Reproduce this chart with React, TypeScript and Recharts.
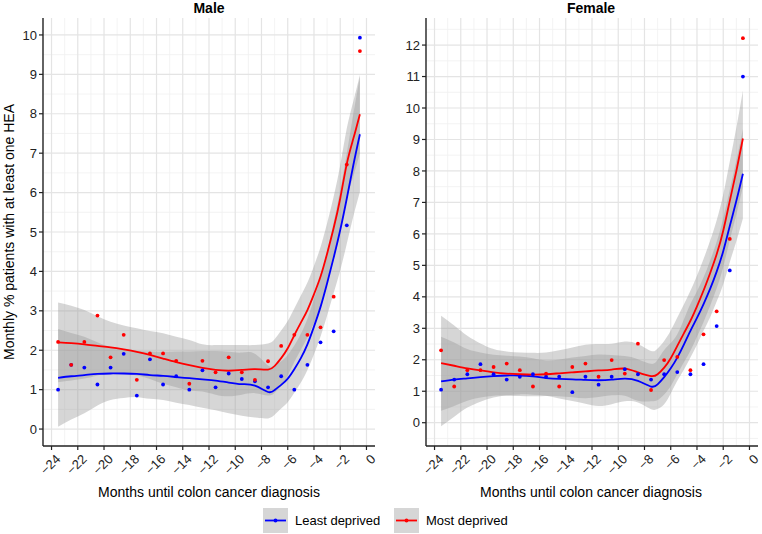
import { ComposedChart, Area, Line, Scatter, XAxis, YAxis, CartesianGrid } from "recharts";

// observed monthly values, one per half month before diagnosis
const months = [
  -23.5, -22.5, -21.5, -20.5, -19.5, -18.5, -17.5, -16.5, -15.5, -14.5, -13.5, -12.5,
  -11.5, -10.5, -9.5, -8.5, -7.5, -6.5, -5.5, -4.5, -3.5, -2.5, -1.5, -0.5,
];

const maleMostPts = [
  2.21, 1.63, 2.21, 2.88, 1.82, 2.39, 1.25, 1.92, 1.92, 1.73, 1.15, 1.73,
  1.44, 1.82, 1.44, 1.25, 1.72, 2.11, 2.39, 2.39, 2.58, 3.36, 6.71, 9.59,
];
const maleLeastPts = [
  1.0, 1.63, 1.56, 1.13, 1.56, 1.91, 0.85, 1.77, 1.13, 1.34, 1.0, 1.49,
  1.06, 1.41, 1.27, 1.21, 1.06, 1.34, 1.0, 1.63, 2.2, 2.48, 5.17, 9.93,
];
const femaleMostPts = [
  2.3, 1.15, 1.67, 1.67, 1.77, 1.88, 1.67, 1.15, 1.56, 1.15, 1.77, 1.88,
  1.46, 1.99, 1.56, 2.51, 1.04, 1.99, 2.09, 1.67, 2.81, 3.54, 5.84, 12.22,
];
const femaleLeastPts = [
  1.05, 1.37, 1.54, 1.86, 1.54, 1.37, 1.46, 1.54, 1.46, 1.46, 0.97, 1.46,
  1.21, 1.46, 1.7, 1.54, 1.37, 1.54, 1.61, 1.54, 1.86, 3.07, 4.84, 11.0,
];

// smoothed curve + confidence band
const fitMonths = [
  -23.5, -22.5, -21.5, -20.5, -19.5, -18.5, -17.5, -16.5, -15.5, -14.5, -13.5, -12.5,
  -11.5, -10.5, -9.5, -8.5, -7.5, -7, -6.5, -6, -5.5, -5, -4.5, -4, -3.5, -3, -2.5,
  -2, -1.5, -1, -0.5,
];

const maleMostFit = [
  2.2, 2.18, 2.15, 2.11, 2.07, 2.02, 1.96, 1.88, 1.79, 1.7, 1.62, 1.55,
  1.5, 1.48, 1.5, 1.52, 1.51, 1.6, 1.8, 2.05, 2.38, 2.7, 3.02, 3.42, 3.87, 4.45, 5.1,
  5.85, 6.73, 7.37, 7.99,
];
const maleMostLo = [
  1.19, 1.23, 1.28, 1.36, 1.42, 1.41, 1.36, 1.27, 1.15, 1.06, 0.98, 0.95,
  0.87, 0.83, 0.87, 0.91, 0.85, 0.92, 1.1, 1.36, 1.7, 2.01, 2.32, 2.7, 3.12, 3.68, 4.3,
  5.0, 5.83, 6.42, 6.99,
];
const maleMostHi = [
  3.21, 3.13, 3.02, 2.86, 2.72, 2.63, 2.56, 2.49, 2.43, 2.34, 2.26, 2.15,
  2.13, 2.13, 2.13, 2.13, 2.17, 2.28, 2.5, 2.74, 3.06, 3.39, 3.72, 4.14, 4.62, 5.22, 5.9,
  6.7, 7.63, 8.32, 8.99,
];
const maleLeastFit = [
  1.3, 1.34, 1.37, 1.4, 1.41, 1.41, 1.4, 1.37, 1.35, 1.32, 1.29, 1.26,
  1.23, 1.18, 1.14, 1.1, 0.94, 0.99, 1.12, 1.28, 1.52, 1.8, 2.15, 2.6, 3.1, 3.7, 4.35,
  5.05, 5.85, 6.7, 7.48,
];
const maleLeastLo = [
  0.06, 0.24, 0.4, 0.6, 0.74, 0.79, 0.81, 0.77, 0.74, 0.67, 0.61, 0.54,
  0.48, 0.4, 0.34, 0.29, 0.27, 0.36, 0.52, 0.68, 0.92, 1.18, 1.5, 1.9, 2.35, 2.88, 3.45,
  4.03, 4.7, 5.4, 6.02,
];
const maleLeastHi = [
  2.54, 2.44, 2.34, 2.2, 2.08, 2.03, 1.99, 1.97, 1.96, 1.97, 1.97, 1.98,
  1.98, 1.96, 1.94, 1.91, 1.61, 1.62, 1.72, 1.88, 2.12, 2.42, 2.8, 3.3, 3.85, 4.52, 5.25,
  6.07, 7.0, 8.0, 8.94,
];

const femaleMostFit = [
  1.89, 1.81, 1.73, 1.66, 1.6, 1.56, 1.54, 1.53, 1.54, 1.57, 1.6, 1.63,
  1.66, 1.69, 1.72, 1.6, 1.48, 1.54, 1.75, 2.05, 2.44, 2.84, 3.24, 3.7, 4.2, 4.75, 5.35,
  6.1, 7.05, 8.0, 9.03,
];
const femaleMostLo = [
  0.38, 0.53, 0.7, 0.8, 0.86, 0.86, 0.85, 0.84, 0.85, 0.84, 0.81, 0.78,
  0.82, 0.87, 0.86, 0.7, 0.68, 0.72, 0.9, 1.17, 1.54, 1.92, 2.29, 2.73, 3.2, 3.72, 4.27,
  4.95, 5.8, 6.62, 7.5,
];
const femaleMostHi = [
  3.4, 3.09, 2.76, 2.52, 2.34, 2.26, 2.23, 2.22, 2.23, 2.3, 2.39, 2.48,
  2.5, 2.51, 2.58, 2.5, 2.28, 2.36, 2.6, 2.93, 3.34, 3.76, 4.19, 4.67, 5.2, 5.78, 6.43,
  7.25, 8.3, 9.38, 10.56,
];
const femaleLeastFit = [
  1.31, 1.37, 1.41, 1.45, 1.48, 1.5, 1.5, 1.47, 1.42, 1.39, 1.38, 1.36,
  1.35, 1.37, 1.4, 1.33, 1.15, 1.22, 1.45, 1.73, 2.07, 2.48, 2.92, 3.33, 3.77, 4.25, 4.8,
  5.45, 6.25, 7.05, 7.91,
];
const femaleLeastLo = [
  -0.11, 0.19, 0.48, 0.67, 0.8, 0.87, 0.9, 0.89, 0.86, 0.77, 0.69, 0.6,
  0.53, 0.59, 0.68, 0.64, 0.43, 0.44, 0.59, 0.93, 1.33, 1.68, 2.07, 2.48, 2.92, 3.35, 3.85,
  4.4, 5.1, 5.77, 6.49,
];
const femaleLeastHi = [
  2.73, 2.55, 2.34, 2.23, 2.16, 2.13, 2.1, 2.05, 1.98, 2.01, 2.07, 2.12,
  2.17, 2.15, 2.12, 2.02, 1.87, 2.0, 2.31, 2.53, 2.81, 3.28, 3.77, 4.18, 4.62, 5.15, 5.75,
  6.5, 7.4, 8.33, 9.33,
];

const xTicks = [-24, -22, -20, -18, -16, -14, -12, -10, -8, -6, -4, -2, 0];
const xMinor = [-23, -21, -19, -17, -15, -13, -11, -9, -7, -5, -3, -1];
const maleYTicks = [0, 1, 2, 3, 4, 5, 6, 7, 8, 9, 10];
const maleYMinor = [0.5, 1.5, 2.5, 3.5, 4.5, 5.5, 6.5, 7.5, 8.5, 9.5];
const femaleYTicks = [0, 1, 2, 3, 4, 5, 6, 7, 8, 9, 10, 11, 12];
const femaleYMinor = [-0.5, 0.5, 1.5, 2.5, 3.5, 4.5, 5.5, 6.5, 7.5, 8.5, 9.5, 10.5, 11.5, 12.5];

const MOST = "#ff0000";
const LEAST = "#0000ff";
const FONT = "'Liberation Sans', Arial, Helvetica, sans-serif";
const CURVE = "natural";

function XTick({ x, y, payload }: any) {
  const v = payload.value;
  const label = v < 0 ? `\u2212${Math.abs(v)}` : `${v}`;
  const ax = x + 3;
  const ay = y + 1;
  return (
    <text
      x={ax}
      y={ay}
      transform={`rotate(-45 ${ax} ${ay})`}
      textAnchor="end"
      dominantBaseline="hanging"
      fontSize={13}
      fontFamily={FONT}
      fill="#222"
    >
      {label}
    </text>
  );
}

const dot = (color: string) => (p: any) => <circle cx={p.cx} cy={p.cy} r={1.9} fill={color} />;

interface PanelProps {
  left: number;
  yDomain: [number, number];
  yTicks: number[];
  yMinor: number[];
  mostPts: number[];
  leastPts: number[];
  mostFit: number[];
  mostLo: number[];
  mostHi: number[];
  leastFit: number[];
  leastLo: number[];
  leastHi: number[];
}

function Panel(p: PanelProps) {
  const data = fitMonths.map((m, i) => ({
    m,
    mostFit: p.mostFit[i],
    mostBand: [p.mostLo[i], p.mostHi[i]],
    leastFit: p.leastFit[i],
    leastBand: [p.leastLo[i], p.leastHi[i]],
  }));
  const mostDots = months.map((m, i) => ({ m, v: p.mostPts[i] }));
  const leastDots = months.map((m, i) => ({ m, v: p.leastPts[i] }));

  return (
    <div style={{ position: "absolute", left: p.left, top: 0 }}>
      <ComposedChart
        width={380}
        height={534}
        data={data}
        margin={{ top: 18, right: 5, bottom: 58, left: 0 }}
      >
        <CartesianGrid
          verticalValues={xMinor}
          horizontalValues={p.yMinor}
          stroke="#f0f0f0"
          strokeWidth={0.8}
        />
        <CartesianGrid
          verticalValues={xTicks}
          horizontalValues={p.yTicks}
          stroke="#e4e4e4"
          strokeWidth={1.2}
        />
        <XAxis
          dataKey="m"
          type="number"
          domain={[-24.65, 0.65]}
          ticks={xTicks}
          allowDataOverflow
          height={30}
          tickSize={4}
          axisLine={{ stroke: "#222", strokeWidth: 1.4 }}
          tickLine={{ stroke: "#222", strokeWidth: 1.2 }}
          tick={<XTick />}
          interval={0}
        />
        <YAxis
          type="number"
          domain={p.yDomain}
          ticks={p.yTicks}
          allowDataOverflow
          width={43}
          tickSize={4}
          tickMargin={2}
          axisLine={{ stroke: "#222", strokeWidth: 1.4 }}
          tickLine={{ stroke: "#222", strokeWidth: 1.2 }}
          tick={{ fontSize: 13, fill: "#222", fontFamily: FONT }}
          interval={0}
        />
        <Area
          dataKey="leastBand"
          type={CURVE}
          stroke="none"
          fill="#999999"
          fillOpacity={0.4}
          activeDot={false}
          isAnimationActive={false}
        />
        <Area
          dataKey="mostBand"
          type={CURVE}
          stroke="none"
          fill="#999999"
          fillOpacity={0.4}
          activeDot={false}
          isAnimationActive={false}
        />
        <Line
          dataKey="leastFit"
          type={CURVE}
          stroke={LEAST}
          strokeWidth={1.8}
          dot={false}
          activeDot={false}
          isAnimationActive={false}
        />
        <Line
          dataKey="mostFit"
          type={CURVE}
          stroke={MOST}
          strokeWidth={1.8}
          dot={false}
          activeDot={false}
          isAnimationActive={false}
        />
        <Scatter data={leastDots} dataKey="v" fill={LEAST} shape={dot(LEAST)} isAnimationActive={false} />
        <Scatter data={mostDots} dataKey="v" fill={MOST} shape={dot(MOST)} isAnimationActive={false} />
      </ComposedChart>
    </div>
  );
}

export default function App() {
  return (
    <div
      style={{
        position: "fixed",
        left: 0,
        top: 0,
        width: 762,
        height: 534,
        overflow: "hidden",
        background: "#fff",
        fontFamily: FONT,
      }}
    >
      <Panel
        left={0}
        yDomain={[-0.43, 10.43]}
        yTicks={maleYTicks}
        yMinor={maleYMinor}
        mostPts={maleMostPts}
        leastPts={maleLeastPts}
        mostFit={maleMostFit}
        mostLo={maleMostLo}
        mostHi={maleMostHi}
        leastFit={maleLeastFit}
        leastLo={maleLeastLo}
        leastHi={maleLeastHi}
      />
      <Panel
        left={383}
        yDomain={[-0.74, 12.86]}
        yTicks={femaleYTicks}
        yMinor={femaleYMinor}
        mostPts={femaleMostPts}
        leastPts={femaleLeastPts}
        mostFit={femaleMostFit}
        mostLo={femaleMostLo}
        mostHi={femaleMostHi}
        leastFit={femaleLeastFit}
        leastLo={femaleLeastLo}
        leastHi={femaleLeastHi}
      />
      <svg
        width={762}
        height={534}
        style={{ position: "absolute", left: 0, top: 0, pointerEvents: "none" }}
        fontFamily={FONT}
      >
        <text x={209} y={13} textAnchor="middle" fontSize={14} fontWeight="bold" fill="#000">
          Male
        </text>
        <text x={591} y={13} textAnchor="middle" fontSize={14} fontWeight="bold" fill="#000">
          Female
        </text>
        <text x={209} y={497} textAnchor="middle" fontSize={14} fill="#000">
          Months until colon cancer diagnosis
        </text>
        <text x={591} y={497} textAnchor="middle" fontSize={14} fill="#000">
          Months until colon cancer diagnosis
        </text>
        <text
          x={14}
          y={232}
          transform="rotate(-90 14 232)"
          textAnchor="middle"
          fontSize={14}
          fill="#000"
        >
          Monthly % patients with at least one HEA
        </text>

        <rect x={263} y={508} width={25} height={25} fill="#d6d6d6" />
        <line x1={265} y1={520.5} x2={286} y2={520.5} stroke={LEAST} strokeWidth={1.8} />
        <circle cx={275.5} cy={520.5} r={1.9} fill={LEAST} />
        <text x={295} y={525} fontSize={13} fill="#000">
          Least deprived
        </text>

        <rect x={394} y={508} width={25} height={25} fill="#d6d6d6" />
        <line x1={396} y1={520.5} x2={417} y2={520.5} stroke={MOST} strokeWidth={1.8} />
        <circle cx={406.5} cy={520.5} r={1.9} fill={MOST} />
        <text x={426} y={525} fontSize={13} fill="#000">
          Most deprived
        </text>
      </svg>
    </div>
  );
}
